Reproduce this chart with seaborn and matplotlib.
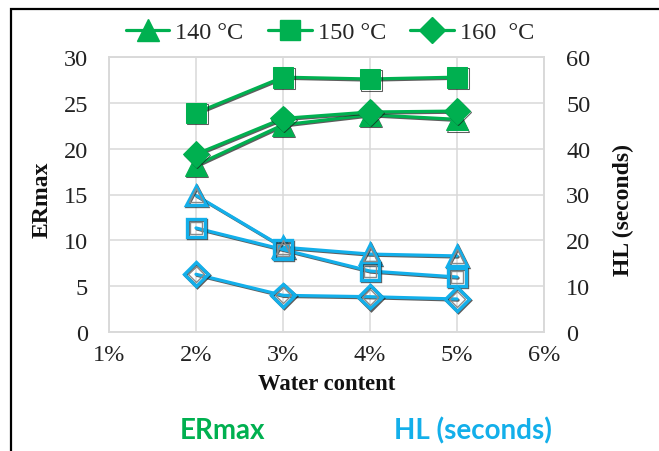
import numpy as np
import pandas as pd
import seaborn as sns
import matplotlib.pyplot as plt
import matplotlib.patheffects as pe
from matplotlib.lines import Line2D
from matplotlib.patches import Rectangle

# Water content (fraction) and measured series
water = [0.02, 0.03, 0.04, 0.05]
temps = ["140 °C", "150 °C", "160  °C"]
er_140 = [18.2, 22.6, 23.7, 23.2]
er_150 = [23.9, 27.8, 27.6, 27.8]
er_160 = [19.4, 23.3, 24.0, 24.1]
hl_140 = [29.8, 18.5, 17.0, 16.6]
hl_150 = [22.7, 18.0, 13.3, 12.0]
hl_160 = [12.6, 8.0, 7.7, 7.2]
x_ticks = [0.01, 0.02, 0.03, 0.04, 0.05, 0.06]
x_tick_labels = ["1%", "2%", "3%", "4%", "5%", "6%"]

GREEN = "#00B050"
BLUE = "#13AFEA"
SERIF = ["Liberation Serif", "DejaVu Serif"]

sns.set_theme(style="white")
plt.rcParams["font.family"] = SERIF

W, H = 659, 452
fig = plt.figure(figsize=(W / 100, H / 100), dpi=100)
ax = fig.add_axes([109 / W, 1 - 333 / H, (544 - 109) / W, (333 - 58) / H])
ax2 = ax.twinx()

er = pd.DataFrame({"water": water * 3,
                   "temp": np.repeat(temps, 4),
                   "val": er_140 + er_150 + er_160})
hl = pd.DataFrame({"water": water * 3,
                   "temp": np.repeat(temps, 4),
                   "val": hl_140 + hl_150 + hl_160})

markers = {temps[0]: "^", temps[1]: "s", temps[2]: "D"}
sizes_fill = {temps[0]: 16, temps[1]: 15, temps[2]: 13}
sizes_open = {temps[0]: 14, temps[1]: 13, temps[2]: 12}
shadow = [pe.SimpleLineShadow(offset=(0.8, -0.8), shadow_color="k", alpha=0.7),
          pe.Normal()]

for t in temps:
    sub = er[er.temp == t]
    sns.lineplot(data=sub, x="water", y="val", ax=ax, color=GREEN, lw=2.3,
                 marker=markers[t], markersize=sizes_fill[t],
                 markerfacecolor=GREEN, markeredgecolor=GREEN,
                 path_effects=shadow, zorder=3, legend=False)

for t in temps:
    sub = hl[hl.temp == t]
    sns.lineplot(data=sub, x="water", y="val", ax=ax2, color=BLUE, lw=2.3,
                 marker=markers[t], markersize=sizes_open[t],
                 markerfacecolor="none", markeredgecolor=BLUE,
                 markeredgewidth=2.4, path_effects=shadow, zorder=3,
                 legend=False)
    sns.lineplot(data=sub, x="water", y="val", ax=ax2, lw=0,
                 marker=markers[t], markersize=sizes_open[t] - 4,
                 markerfacecolor="none", markeredgecolor="#8a8a8a",
                 markeredgewidth=1.0, zorder=4, legend=False)

ax.set_xlim(0.01, 0.06)
ax.set_xticks(x_ticks)
ax.set_xticklabels(x_tick_labels)
ax.set_ylim(0, 30)
ax.set_yticks(range(0, 31, 5))
ax2.set_ylim(0, 60)
ax2.set_yticks(range(0, 61, 10))

ax.grid(True, color="#d9d9d9", lw=1.1)
ax.set_axisbelow(True)
for a in (ax, ax2):
    for s in a.spines.values():
        s.set_color("#d9d9d9")
        s.set_linewidth(1.1)
    a.set_xlabel("")
    a.set_ylabel("")
ax.tick_params(axis="y", length=0, pad=15, labelsize=17.5, labelcolor="#222222")
ax.tick_params(axis="x", length=0, pad=9, labelsize=17.5, labelcolor="#222222")
ax2.tick_params(axis="y", length=0, pad=16, labelsize=17.5, labelcolor="#222222")

fig.text(42 / W, 1 - 200 / H, "ERmax", rotation=90, ha="center", va="center",
         fontsize=17, fontweight="bold", color="#111111")
fig.text(623 / W, 1 - 210 / H, "HL (seconds)", rotation=90, ha="center",
         va="center", fontsize=17, fontweight="bold", color="#111111")
fig.text(327 / W, 1 - 385 / H, "Water content", ha="center", va="center",
         fontsize=16.3, fontweight="bold", color="#111111")

fig.text(222 / W, 1 - 431 / H, "ERmax", ha="center", va="center",
         fontsize=20, fontweight="bold", color=GREEN, family=["Lato", "DejaVu Sans"])
fig.text(473 / W, 1 - 431 / H, "HL (seconds)", ha="center", va="center",
         fontsize=20, fontweight="bold", color=BLUE, family=["Lato", "DejaVu Sans"])

handles = [Line2D([], [], color=GREEN, lw=2.3, marker=markers[t],
                  markersize=sizes_fill[t], markerfacecolor=GREEN,
                  markeredgecolor=GREEN) for t in temps]
fig.legend(handles, temps, loc="center", bbox_to_anchor=(330 / W, 1 - 33 / H),
           ncol=3, frameon=False, fontsize=17.5, handlelength=1.8,
           handletextpad=0.25, columnspacing=1.0)

fig.patches.append(Rectangle((11 / W, -0.2), 1.2, (H - 10) / H + 0.2,
                             transform=fig.transFigure, fill=False,
                             edgecolor="black", lw=1.6))

fig.savefig("out.png", dpi=100)
